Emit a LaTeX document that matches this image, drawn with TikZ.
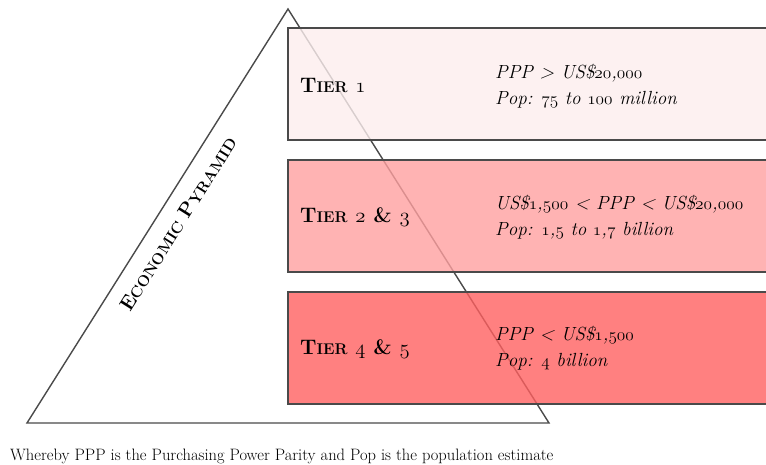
\documentclass[tikz,border=0pt]{standalone}
\usepackage{fontspec}
\setmainfont{Latin Modern Roman}

% old-style figures taken from the Latin Modern math italic fonts
\newcommand{\osn}[1]{{\usefont{OML}{lmm}{m}{it}#1}}
\newcommand{\osnb}[1]{{\usefont{OML}{lmm}{b}{it}#1}}
% bold capital followed by reduced capitals
\newcommand{\capsc}[2]{#1{\fontsize{15.5}{18}\selectfont #2}}

\definecolor{tierA}{HTML}{FCEEEE}
\definecolor{tierB}{HTML}{FFA0A0}
\definecolor{tierC}{HTML}{FF6060}
\definecolor{edge}{HTML}{4A4A4A}

\tikzset{
  pyramid/.style={draw=edge, line width=1.4pt, line join=miter},
  tierbox/.style={draw=edge, line width=1.4pt, fill opacity=0.8, draw opacity=1,
    rectangle, anchor=north west, minimum width=500pt, minimum height=112pt,
    inner sep=0pt, outer sep=0pt},
  tierlabel/.style={anchor=west, inner sep=0pt, font=\bfseries\fontsize{21}{25}\selectfont},
  tiertext/.style={anchor=west, inner sep=0pt, align=left,
    font=\itshape\fontsize{19}{26}\selectfont},
}

\begin{document}
\begin{tikzpicture}[x=1pt,y=-1pt]
\useasboundingbox (0,0) rectangle (766,465);

% the pyramid outline
\coordinate (apex) at (288,9);
\coordinate (baseL) at (27,423);
\coordinate (baseR) at (549,423);
\draw[pyramid] (apex) -- (baseL) -- (baseR) -- cycle;

\node[font=\bfseries\fontsize{20}{24}\selectfont, rotate=57.8] (pyrtitle) at (178,224)
  {\capsc{E}{CONOMIC} \capsc{P}{YRAMID}};

% the three tiers
\node[tierbox, fill=tierA] (box1) at (288,28) {};
\node[tierbox, fill=tierB] (box2) at (288,160) {};
\node[tierbox, fill=tierC] (box3) at (288,292) {};

\node[tierlabel] (lab1) at (300,85) {\capsc{T}{IER} \osnb{1}};
\node[tierlabel] (lab2) at (300,217) {\capsc{T}{IER} \osnb{2} \& \osnb{3}};
\node[tierlabel] (lab3) at (300,349) {\capsc{T}{IER} \osnb{4} \& \osnb{5}};

\node[tiertext] (txt1) at (495,86)
  {PPP > US\$\osn{20},\osn{000}\\Pop: \osn{75} to \osn{100} million};
\node[tiertext] (txt2) at (495,217)
  {US\$\osn{1},\osn{500} < PPP < US\$\osn{20},\osn{000}\\Pop: \osn{1},\osn{5} to \osn{1},\osn{7} billion};
\node[tiertext] (txt3) at (495,348)
  {PPP < US\$\osn{1},\osn{500}\\Pop: \osn{4} billion};

% footnote
\node[anchor=west, inner sep=0pt, font=\fontsize{16.5}{19}\selectfont] (note) at (10,456)
  {Whereby PPP is the Purchasing Power Parity and Pop is the population estimate};
\end{tikzpicture}
\end{document}
